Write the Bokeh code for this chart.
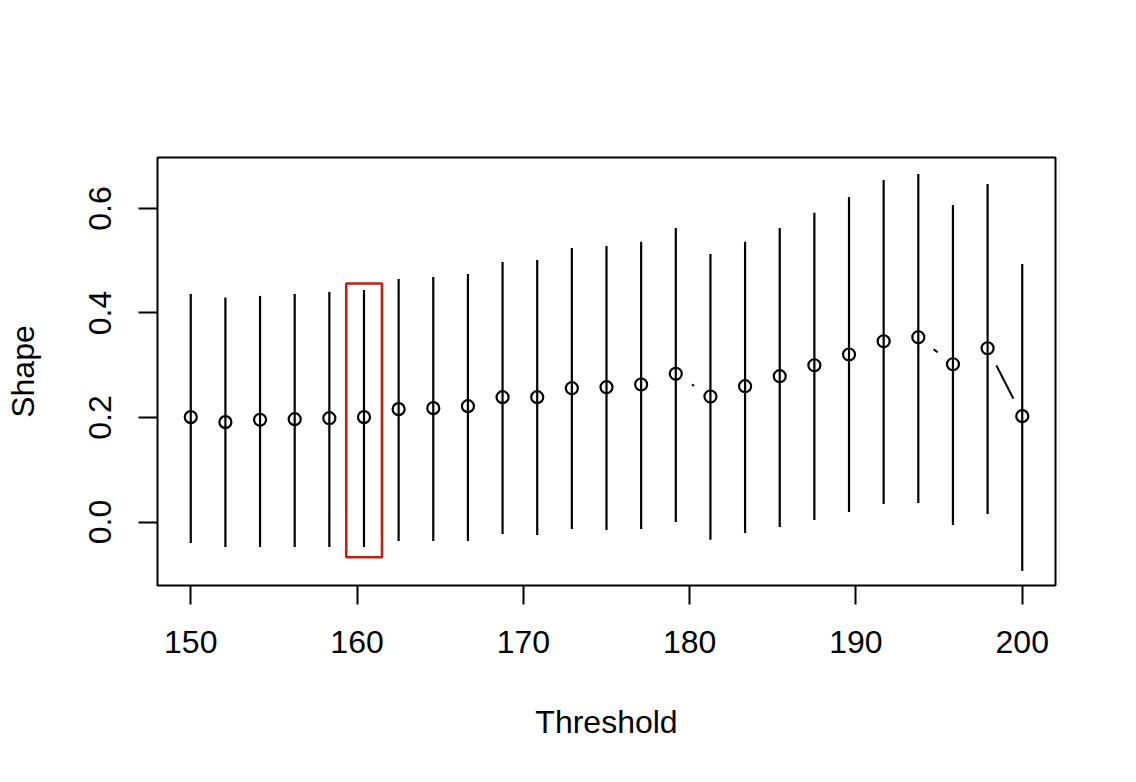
import math
from bokeh.plotting import figure
from bokeh.models import Range1d, FixedTicker, ColumnDataSource
from bokeh.embed import file_html
from bokeh.resources import INLINE

# ---- data ----
threshold = [150 + i * 50 / 24 for i in range(25)]
shape = [0.2007, 0.1911, 0.1956, 0.1968, 0.1987, 0.2007, 0.2160, 0.2179, 0.2217,
         0.2389, 0.2389, 0.2561, 0.2580, 0.2631, 0.2836, 0.2402, 0.2599, 0.2790,
         0.3000, 0.3205, 0.3459, 0.3535, 0.3019, 0.3325, 0.2026]
lower = [-0.0400, -0.0478, -0.0478, -0.0478, -0.0478, -0.0478, -0.0363, -0.0363, -0.0363,
         -0.0229, -0.0248, -0.0134, -0.0153, -0.0134, 0.0000, -0.0338, -0.0210, -0.0095,
         0.0038, 0.0191, 0.0344, 0.0363, -0.0057, 0.0153, -0.0936]
upper = [0.4365, 0.4294, 0.4326, 0.4365, 0.4403, 0.4441, 0.4651, 0.4689, 0.4747,
         0.4976, 0.5014, 0.5243, 0.5282, 0.5364, 0.5626, 0.5129, 0.5364, 0.5626,
         0.5918, 0.6218, 0.6543, 0.6658, 0.6065, 0.6467, 0.4938]
x_ticks = [150, 160, 170, 180, 190, 200]
y_ticks = [0.0, 0.2, 0.4, 0.6]
y_tick_labels = ["0.0", "0.2", "0.4", "0.6"]
highlight_x = [159.35, 161.50]
highlight_y = [-0.0675, 0.4565]

FONT = "Liberation Sans"
FS = "32px"

src = ColumnDataSource(dict(x=threshold, y=shape, lo=lower, hi=upper))

p = figure(width=1120, height=766, output_backend="svg", toolbar_location=None,
           x_range=Range1d(148, 202), y_range=Range1d(-0.1215, 0.6975),
           min_border_left=157, min_border_right=65, min_border_top=157,
           min_border_bottom=181)
p.background_fill_color = "white"
p.border_fill_color = "white"
p.xgrid.visible = False
p.ygrid.visible = False
p.outline_line_color = "black"
p.outline_line_width = 2
p.outline_line_alpha = 1.0

# type = "b": connecting line with gaps around the points
p.line("x", "y", source=src, line_color="black", line_width=2)
p.scatter("x", "y", source=src, marker="circle", size=39,
          fill_color="white", line_color=None)
# confidence intervals
p.segment(x0="x", y0="lo", x1="x", y1="hi", source=src,
          line_color="black", line_width=2.2)
# points
p.scatter("x", "y", source=src, marker="circle", size=12,
          fill_color=None, line_color="black", line_width=2.2)
# highlight rectangle
p.quad(left=[highlight_x[0]], right=[highlight_x[1]],
       bottom=[highlight_y[0]], top=[highlight_y[1]],
       fill_color=None, line_color="#C41E0C", line_width=2.6)

for ax in (p.xaxis[0], p.yaxis[0]):
    ax.axis_line_color = None
    ax.major_tick_line_color = "black"
    ax.major_tick_line_width = 2
    ax.major_tick_out = 19
    ax.major_tick_in = 0
    ax.minor_tick_line_color = None
    ax.major_label_text_font = FONT
    ax.major_label_text_font_size = FS
    ax.major_label_text_color = "black"
    ax.axis_label_text_font = FONT
    ax.axis_label_text_font_size = FS
    ax.axis_label_text_font_style = "normal"
    ax.axis_label_text_color = "black"

p.xaxis.ticker = FixedTicker(ticks=x_ticks)
p.xaxis.axis_label = "Threshold"
p.xaxis.major_label_standoff = 26
p.xaxis.axis_label_standoff = 48

p.yaxis.ticker = FixedTicker(ticks=y_ticks)
p.yaxis.major_label_overrides = {t: l for t, l in zip(y_ticks, y_tick_labels)}
p.yaxis.major_label_orientation = "vertical"
p.yaxis.axis_label = "Shape"
p.yaxis.major_label_standoff = 27
p.yaxis.axis_label_standoff = 46

open("out.html", "w").write(file_html(p, INLINE))
